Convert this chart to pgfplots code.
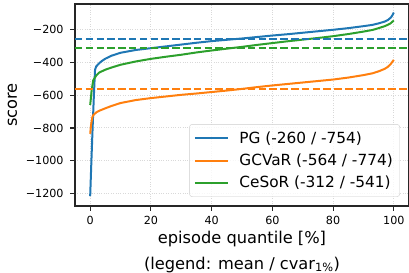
\documentclass[border=0pt]{standalone}
\usepackage{pgfplots}
\pgfplotsset{compat=1.18}
\usepackage{fontspec}
\setmainfont{DejaVu Sans}
\definecolor{tabblue}{HTML}{1F77B4}
\definecolor{taborange}{HTML}{FF7F0E}
\definecolor{tabgreen}{HTML}{2CA02C}
\begin{document}
\begin{tikzpicture}
\begin{axis}[
  scale only axis,
  width=334bp, height=202bp,
  at={(0,0)}, anchor=south west,
  xmin=-5, xmax=105, ymin=-1275, ymax=-45,
  xtick={0,20,40,60,80,100},
  ytick={-1200,-1000,-800,-600,-400,-200},
  yticklabels={−1200,−1000,−800,−600,−400,−200},
  /pgf/number format/assume math mode=true,
  tick label style={font=\fontsize{11.2}{13}\selectfont},
  xticklabel style={yshift=-2bp},
  yticklabel style={xshift=-3bp},
  tick align=outside,
  tick pos=left,
  major tick length=4.9bp,
  tick style={black!85, line width=1.1bp},
  grid=major,
  grid style={gray!30, dotted, line width=1bp},
  axis line style={black!85, line width=1.1bp},
  xlabel={episode quantile [\%]\\(legend: mean / cvar$_{\mathrm{1\%}}$)},
  every axis x label/.style={at={(axis description cs:0.5,-0.125)}, anchor=north,
    align=center, inner sep=0pt, font=\fontsize{16.3}{25.5}\selectfont},
  ylabel={score},
  every axis y label/.style={at={(axis description cs:-0.187,0.5)}, anchor=center,
    rotate=90, font=\fontsize{16.3}{20}\selectfont},
  legend style={at={(0.973,0.045)}, anchor=south east, font=\fontsize{15.4}{18}\selectfont,
    draw=black!20, rounded corners=3pt, fill=white, fill opacity=0.8, text opacity=1,
    row sep=4bp, column sep=8bp, inner xsep=4.5bp, inner ysep=5bp,
    nodes={inner sep=2.5bp}},
  legend cell align=left,
  legend image code/.code={\draw[#1, line width=2bp] (0bp,0bp) -- (33bp,0bp);},
]
\addplot[color=tabblue, line width=2bp] coordinates {
(0,-1215) (0.4,-1000) (0.8,-800) (1.2,-610) (1.6,-445) (2,-425) (3,-405) (4,-390) (5,-378) (7,-360) (10,-342) (15,-325) (20,-314) (25,-303) (30,-292) (35,-281) (40,-271) (45,-263) (50,-255) (55,-246) (60,-237) (65,-229) (70,-220) (75,-211) (80,-202) (85,-192) (90,-180) (93,-172) (95,-163) (97,-152) (98,-143) (99,-128) (99.5,-115) (100,-97)
};
\addlegendentry{PG (-260 / -754)}
\addplot[color=taborange, line width=2bp] coordinates {
(0,-835) (0.3,-780) (0.7,-735) (1,-722) (2,-705) (3,-695) (5,-680) (7,-666) (10,-648) (15,-630) (20,-618) (25,-608) (30,-598) (35,-590) (40,-581) (45,-572) (50,-562) (55,-551) (60,-541) (65,-532) (70,-523) (75,-514) (80,-505) (85,-493) (90,-478) (93,-467) (95,-455) (97,-440) (98,-428) (99,-410) (100,-385)
};
\addlegendentry{GCVaR (-564 / -774)}
\addplot[color=tabgreen, line width=2bp] coordinates {
(0,-660) (0.5,-570) (1,-510) (2,-480) (3,-462) (5,-445) (7,-432) (10,-415) (15,-395) (20,-379) (25,-366) (30,-354) (35,-340) (40,-328) (45,-317) (50,-306) (55,-294) (60,-283) (65,-272) (70,-262) (75,-252) (80,-241) (85,-228) (90,-213) (93,-203) (95,-192) (97,-180) (98,-172) (99,-162) (100,-145)
};
\addlegendentry{CeSoR (-312 / -541)}
\addplot[color=tabblue, line width=2bp, dash pattern=on 7.5bp off 3.3bp, forget plot] coordinates {(-5,-260) (105,-260)};
\addplot[color=taborange, line width=2bp, dash pattern=on 7.5bp off 3.3bp, forget plot] coordinates {(-5,-564) (105,-564)};
\addplot[color=tabgreen, line width=2bp, dash pattern=on 7.5bp off 3.3bp, forget plot] coordinates {(-5,-312) (105,-312)};
\end{axis}
\pgfresetboundingbox
\path (-75bp,-67bp) rectangle (334bp,206bp);
\end{tikzpicture}
\end{document}
